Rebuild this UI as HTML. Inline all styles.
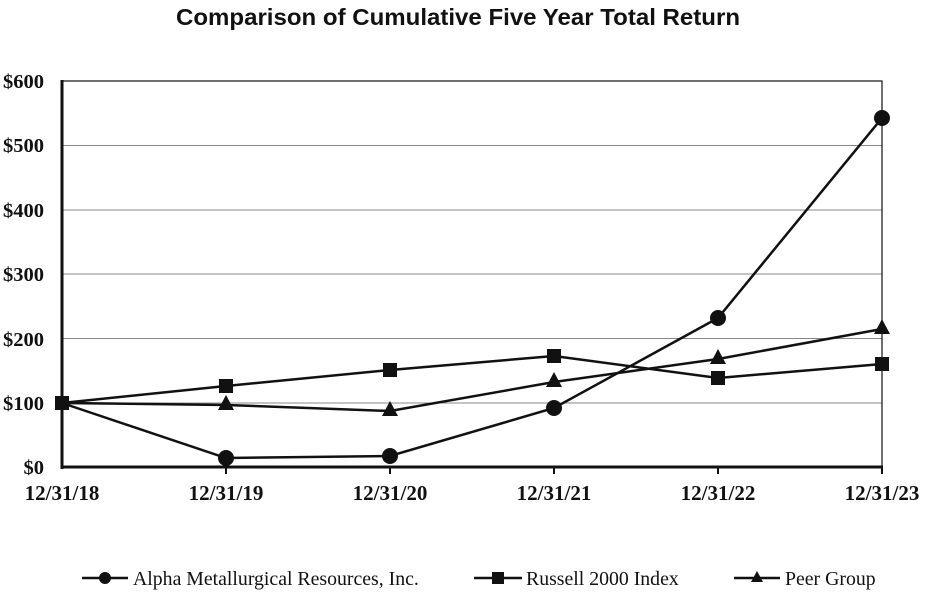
<!DOCTYPE html>
<html><head><style>body{margin:0;background:#fff}</style></head><body>
<svg width="926" height="600" xmlns="http://www.w3.org/2000/svg">
<rect width="926" height="600" fill="#fff"/>
<text x="458" y="25" text-anchor="middle" font-family="Liberation Sans, sans-serif" font-weight="bold" font-size="23" fill="#111" textLength="564" lengthAdjust="spacingAndGlyphs">Comparison of Cumulative Five Year Total Return</text>
<g stroke="#888" stroke-width="1">
<line x1="62" y1="145.5" x2="882" y2="145.5"/><line x1="62" y1="210" x2="882" y2="210"/><line x1="62" y1="274" x2="882" y2="274"/><line x1="62" y1="338.5" x2="882" y2="338.5"/><line x1="62" y1="403" x2="882" y2="403"/>
</g>
<rect x="62" y="81" width="820" height="386" fill="none" stroke="#111" stroke-width="1.2"/>
<line x1="62" y1="80" x2="62" y2="469" stroke="#111" stroke-width="3"/>
<line x1="61" y1="467" x2="883" y2="467" stroke="#111" stroke-width="3"/>
<g stroke="#111" stroke-width="2"><line x1="226" y1="467" x2="226" y2="474"/><line x1="390" y1="467" x2="390" y2="474"/><line x1="554" y1="467" x2="554" y2="474"/><line x1="718" y1="467" x2="718" y2="474"/><line x1="882" y1="467" x2="882" y2="474"/></g>
<g font-family="Liberation Serif, serif" font-weight="bold" font-size="20.5" fill="#111" text-anchor="end">
<text x="44" y="88">$600</text><text x="44" y="152">$500</text><text x="44" y="217">$400</text><text x="44" y="281">$300</text><text x="44" y="346">$200</text><text x="44" y="410">$100</text><text x="44" y="474">$0</text>
</g>
<g font-family="Liberation Serif, serif" font-weight="bold" font-size="21" fill="#111" text-anchor="middle">
<text x="62" y="500">12/31/18</text><text x="226" y="500">12/31/19</text><text x="390" y="500">12/31/20</text><text x="554" y="500">12/31/21</text><text x="718" y="500">12/31/22</text><text x="882" y="500">12/31/23</text>
</g>
<g fill="none" stroke="#111" stroke-width="2.5">
<polyline points="62,403 226,458 390,456 554,408 718,318 882,118"/>
<polyline points="62,403 226,386 390,370 554,356 718,378 882,364"/>
<polyline points="62,403 226,405 390,411 554,382 718,359 882,329"/>
</g>
<g fill="#111">
<circle cx="226" cy="458" r="8"/><circle cx="390" cy="456" r="8"/><circle cx="554" cy="408" r="8"/><circle cx="718" cy="318" r="8"/><circle cx="882" cy="118" r="8"/>
<rect x="55" y="396" width="14" height="14"/><rect x="219" y="379" width="14" height="14"/><rect x="383" y="363" width="14" height="14"/><rect x="547" y="349" width="14" height="14"/><rect x="711" y="371" width="14" height="14"/><rect x="875" y="357" width="14" height="14"/>
<polygon points="226,395 234,410 218,410"/><polygon points="390,401 398,416 382,416"/><polygon points="554,372 562,387 546,387"/><polygon points="718,349 726,364 710,364"/><polygon points="882,319 890,334 874,334"/>
</g>
<g stroke="#111" stroke-width="2.5"><line x1="82" y1="578" x2="128" y2="578"/><line x1="474" y1="578" x2="522" y2="578"/><line x1="734" y1="578" x2="780" y2="578"/></g>
<g fill="#111"><circle cx="105" cy="578" r="6"/><rect x="492" y="572" width="12" height="12"/><polygon points="757,571 763,582 751,582"/></g>
<g font-family="Liberation Serif, serif" font-size="19.8" fill="#111">
<text x="133" y="585">Alpha Metallurgical Resources, Inc.</text><text x="526" y="585">Russell 2000 Index</text><text x="785" y="585">Peer Group</text>
</g>
</svg>
</body></html>
